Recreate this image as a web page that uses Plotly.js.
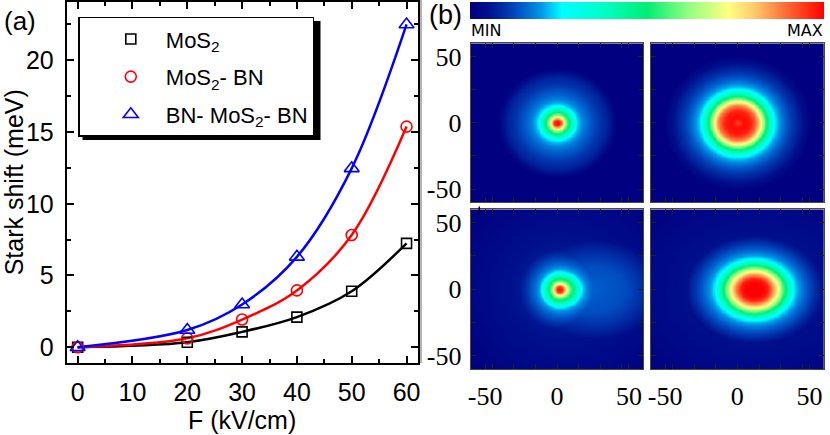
<!DOCTYPE html>
<html><head><meta charset="utf-8">
<script src="https://cdn.plot.ly/plotly-3.0.1.min.js"></script>
<style>html,body{margin:0;padding:0;background:#fff;}#chart{width:830px;height:435px;}</style>
</head><body><div id="chart"></div>
<script>
// ---------- Panel (a): Stark shift vs field ----------
const fieldKVcm = [0, 20, 30, 40, 50, 60];
const starkMoS2 = [0, 0.35, 1.07, 2.1, 3.9, 7.24];
const starkMoS2BN = [0, 0.62, 1.93, 3.96, 7.82, 15.38];
const starkBNMoS2BN = [0, 1.2, 2.98, 6.3, 12.47, 22.5];
const seriesNames = ['MoS<sub>2</sub>', 'MoS<sub>2</sub>- BN', 'BN- MoS<sub>2</sub>- BN'];
const xTickVals = [0, 10, 20, 30, 40, 50, 60];
const yTickVals = [0, 5, 10, 15, 20];

// ---------- Panel (b): exciton density maps (normalised, 0 = MIN, 1 = MAX) ----------
const mapTickVals = [-50, 0, 50];
const mapTickText = ['-50', '0', '50'];
const mapMinorX = [-45, -30, -15, 15, 30, 45];
const mapMinorY = [-25, 25];
const gridCoords = [];
for (let v = -60; v <= 60; v += 1) gridCoords.push(v);
// radial profiles
const tlRadii   = [0, 2, 4, 6, 9, 12.6, 15, 18, 22, 28, 34, 38, 40, 42, 90];
const tlProfile = [1.0, 0.96, 0.8, 0.62, 0.45, 0.27, 0.22, 0.18, 0.15, 0.11, 0.08, 0.05, 0.02, 0, 0];
const trRadii   = [0, 4, 9, 13, 16, 19, 22, 25, 28, 32, 36, 40, 44, 48, 51, 90];
const trProfile = [0.93, 0.99, 0.97, 0.88, 0.74, 0.56, 0.4, 0.27, 0.21, 0.16, 0.12, 0.09, 0.06, 0.03, 0, 0];
const blRadii       = [0, 2, 4, 6, 9, 13, 15, 18, 22, 30, 90];
const blCoreProfile = [1.0, 0.95, 0.78, 0.6, 0.45, 0.27, 0.21, 0.17, 0.13, 0.06, 0];
const brRadii       = [0, 5, 8, 11, 14, 17, 20, 22.5, 26, 30, 35, 40, 90];
const brCoreProfile = [1, 1, 0.97, 0.86, 0.72, 0.56, 0.4, 0.27, 0.2, 0.15, 0.1, 0.05, 0];
const haloRho       = [0, 0.4, 0.6, 0.8, 0.92, 1.0, 3];
const blHaloProfile = [0.15, 0.13, 0.1, 0.06, 0.03, 0, 0];
const brHaloProfile = [0.16, 0.14, 0.11, 0.07, 0.035, 0, 0];
// centres and stretches (map units) of the field-shifted distributions
const blCoreCentre = [1.5, 0], blCoreStretchLeft = 0.92, blCoreStretchRight = 1.14;
const blHaloCentre = [25, 0],  blHaloSemi = [54, 44];
const brCoreCentre = [11.5, 0], brCoreStretch = [1.18, 1];
const brHaloCentre = [15, 0],  brHaloSemi = [51, 46];

const jetScale = [
  [0, 'rgb(0,0,128)'], [0.05, 'rgb(0,15,140)'], [0.1, 'rgb(0,50,170)'], [0.15, 'rgb(0,95,205)'],
  [0.2, 'rgb(0,150,230)'], [0.26, 'rgb(0,255,255)'], [0.38, 'rgb(0,255,195)'], [0.5, 'rgb(0,238,115)'],
  [0.62, 'rgb(150,255,130)'], [0.73, 'rgb(255,255,128)'], [0.8, 'rgb(255,205,110)'],
  [0.9, 'rgb(255,100,50)'], [1, 'rgb(255,0,0)']
];

function interp(xs, ys, v) {
  if (v <= xs[0]) return ys[0];
  for (let i = 1; i < xs.length; i++) {
    if (v <= xs[i]) { const t = (v - xs[i-1]) / (xs[i] - xs[i-1]); return ys[i-1] + t * (ys[i] - ys[i-1]); }
  }
  return ys[ys.length - 1];
}
function buildMap(fn) {
  return gridCoords.map(y => gridCoords.map(x => fn(x, y)));
}
const zTL = buildMap((x, y) => interp(tlRadii, tlProfile, Math.hypot(x, y)));
const zTR = buildMap((x, y) => interp(trRadii, trProfile, Math.hypot(x, y)));
const zBL = buildMap((x, y) => Math.max(
  interp(blRadii, blCoreProfile, Math.hypot((x - blCoreCentre[0]) / (x > blCoreCentre[0] ? blCoreStretchRight : blCoreStretchLeft), y - blCoreCentre[1])),
  interp(haloRho, blHaloProfile, Math.hypot((x - blHaloCentre[0]) / blHaloSemi[0], (y - blHaloCentre[1]) / blHaloSemi[1]))));
const zBR = buildMap((x, y) => Math.max(
  interp(brRadii, brCoreProfile, Math.hypot((x - brCoreCentre[0]) / brCoreStretch[0], (y - brCoreCentre[1]) / brCoreStretch[1])),
  interp(haloRho, brHaloProfile, Math.hypot((x - brHaloCentre[0]) / brHaloSemi[0], (y - brHaloCentre[1]) / brHaloSemi[1]))));

// ---------- traces ----------
const colors = ['#000000', '#ff0000', '#0000ff'];
const symbols = ['square-open', 'circle-open', 'triangle-up-open'];
const sizes = [10, 11, 13];
const ys = [starkMoS2, starkMoS2BN, starkBNMoS2BN];
const traces = [];
ys.forEach((yv, i) => traces.push({
  x: fieldKVcm, y: yv, mode: 'lines', line: {shape: 'spline', smoothing: 1, color: colors[i], width: 2.5},
  showlegend: false, hoverinfo: 'skip', xaxis: 'x', yaxis: 'y'
}));
ys.forEach((yv, i) => traces.push({
  x: fieldKVcm, y: yv, mode: 'markers', name: seriesNames[i], legendgroup: 'g' + i,
  marker: {symbol: symbols[i], size: sizes[i], color: colors[i], line: {width: 1.6, color: colors[i]}},
  xaxis: 'x', yaxis: 'y'
}));
const maps = [zTL, zTR, zBL, zBR];
maps.forEach((z, i) => traces.push({
  type: 'heatmap', x: gridCoords, y: gridCoords, z: z, coloraxis: 'coloraxis', zsmooth: 'best',
  xaxis: 'x' + (i + 2), yaxis: 'y' + (i + 2), showlegend: false, hoverinfo: 'skip'
}));

// ---------- layout ----------
const W = 830, H = 435;
const px = v => v / W, py = v => 1 - v / H;
const fontA = '"Liberation Sans", Arial, sans-serif';
const fontB = '"Liberation Serif", "Times New Roman", Times, serif';

const axA = {
  showgrid: false, zeroline: false, showline: true, linecolor: '#000', linewidth: 2, mirror: 'ticks',
  ticks: 'inside', ticklen: 7, tickwidth: 2, tickcolor: '#000', ticklabelstandoff: 6,
  tickfont: {family: fontA, size: 25, color: '#000'}
};
function mapAxis(domain, anchor, showLabels, minorVals) {
  return {
    domain: domain, anchor: anchor, range: [-60, 60], tickmode: 'array', tickvals: mapTickVals, ticktext: mapTickText,
    showticklabels: showLabels, showgrid: false, zeroline: false, showline: true, linecolor: '#4a4a3a',
    linewidth: 1, mirror: 'ticks', ticks: 'inside', ticklen: 5, tickwidth: 1, tickcolor: '#222',
    minor: {tickmode: 'array', tickvals: minorVals, ticks: 'inside', ticklen: 5, tickwidth: 1, tickcolor: '#222'},
    ticklabelstandoff: 3, tickfont: {family: fontB, size: 26, color: '#000'}
  };
}
const xL = [px(470.7), px(643.3)], xR = [px(650.7), px(824)];
const yT = [py(202.3), py(43.3)], yB = [py(369.3), py(209.3)];

const layout = {
  width: W, height: H, margin: {l: 0, r: 0, t: 0, b: 0},
  paper_bgcolor: '#fff', plot_bgcolor: '#fff',
  xaxis: Object.assign({}, axA, {
    domain: [px(66.7), px(417.5)], anchor: 'y', range: [-2, 62], tickmode: 'array', tickvals: xTickVals,
    minor: {dtick: 5, tick0: 0, ticks: 'inside', ticklen: 4, tickwidth: 2, tickcolor: '#000'},
    title: {text: 'F (kV/cm)', font: {family: fontA, size: 25, color: '#000'}, standoff: 3}
  }),
  yaxis: Object.assign({}, axA, {
    domain: [py(363), py(1.5)], anchor: 'x', range: [-1.1, 24.1], tickmode: 'array', tickvals: yTickVals,
    minor: {dtick: 2.5, tick0: 0, ticks: 'inside', ticklen: 4, tickwidth: 2, tickcolor: '#000'},
    title: {text: 'Stark shift (meV)', font: {family: fontA, size: 25, color: '#000'}, standoff: 6}
  }),
  xaxis2: mapAxis(xL, 'y2', false, mapMinorX), yaxis2: mapAxis(yT, 'x2', true, mapMinorY),
  xaxis3: mapAxis(xR, 'y3', false, mapMinorX), yaxis3: mapAxis(yT, 'x3', false, mapMinorY),
  xaxis4: mapAxis(xL, 'y4', true, mapMinorX),  yaxis4: mapAxis(yB, 'x4', true, mapMinorY),
  xaxis5: mapAxis(xR, 'y5', true, mapMinorX),  yaxis5: mapAxis(yB, 'x5', false, mapMinorY),
  coloraxis: {
    cmin: 0, cmax: 1, colorscale: jetScale,
    colorbar: {orientation: 'h', x: px(470), xanchor: 'left', y: py(1.5), yanchor: 'top',
      len: 354, lenmode: 'pixels', thickness: 17, thicknessmode: 'pixels', outlinewidth: 0,
      showticklabels: false, ticks: '', xpad: 0, ypad: 0}
  },
  legend: {
    x: px(78.3), y: py(16.7), xanchor: 'left', yanchor: 'top', bgcolor: '#fff', bordercolor: '#000',
    borderwidth: 1.5, font: {family: fontA, size: 22, color: '#000'}, itemwidth: 60, indentation: 16,
    traceorder: 'grouped', tracegroupgap: 6
  },
  annotations: [
    {text: '(a)', xref: 'paper', yref: 'paper', x: px(20), y: py(21), xanchor: 'center', yanchor: 'middle', showarrow: false, font: {family: fontA, size: 26, color: '#000'}},
    {text: '(b)', xref: 'paper', yref: 'paper', x: px(445), y: py(15), xanchor: 'center', yanchor: 'middle', showarrow: false, font: {family: fontA, size: 27, color: '#000'}},
    {text: 'MIN', xref: 'paper', yref: 'paper', x: px(469), y: py(30.7), xanchor: 'left', yanchor: 'middle', showarrow: false, font: {family: 'DejaVu Sans', size: 16, color: '#000'}},
    {text: 'MAX', xref: 'paper', yref: 'paper', x: px(825), y: py(30.7), xanchor: 'right', yanchor: 'middle', showarrow: false, font: {family: 'DejaVu Sans', size: 16, color: '#000'}}
  ],
  shapes: [
    {type: 'rect', xref: 'paper', yref: 'paper', x0: px(82.5), x1: px(320.5), y0: py(140), y1: py(21), fillcolor: '#000', line: {width: 0}, layer: 'above'},
    {type: 'rect', xref: 'paper', yref: 'paper', x0: px(421.8), x1: px(462), y0: py(402), y1: py(370), fillcolor: '#fff', line: {width: 0}, layer: 'above'},
    {type: 'line', xref: 'paper', yref: 'paper', x0: px(421), x1: px(421), y0: py(363), y1: py(0), line: {color: '#9a9a9a', width: 1.5}, layer: 'above'},
    {type: 'line', xref: 'paper', yref: 'paper', x0: px(479.3), x1: px(479.3), y0: py(215), y1: py(206.5), line: {color: '#000', width: 1.5}, layer: 'above'}
  ],
  showlegend: true
};

Plotly.newPlot('chart', traces, layout, {displayModeBar: false, staticPlot: true});
</script>
</body></html>
